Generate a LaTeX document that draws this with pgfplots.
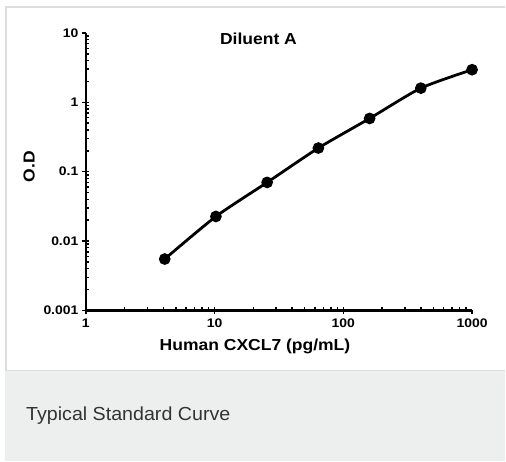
\documentclass[border=0pt]{standalone}
\usepackage{pgfplots}
\pgfplotsset{compat=1.18}
\usepackage{fontspec}
\setmainfont{Liberation Sans}
\newfontfamily\widefont{Liberation Sans}[FakeStretch=1.1]
\newfontfamily\tickfont{Liberation Sans}[FakeStretch=1.12]
\newfontfamily\capfont{Liberation Sans}[FakeStretch=1.04]
\definecolor{bandgray}{HTML}{EDEEEE}
\definecolor{bordergray}{HTML}{DDDDDD}
\definecolor{captiongray}{HTML}{333333}
\begin{document}
\begin{tikzpicture}
\fill[white] (0bp,0bp) rectangle (506bp,462bp);
\fill[bandgray] (5bp,0bp) rectangle (506bp,91bp);
\draw[bordergray, line width=2bp] (6bp,91bp) -- (6bp,455bp) -- (506bp,455bp);
\draw[bordergray, line width=1.5bp] (5bp,91bp) -- (506bp,91bp);
\node[anchor=base west, font=\capfont\fontsize{19}{22}\selectfont, text=captiongray, inner sep=0pt] at (26bp,40.5bp) {Typical Standard Curve};
\begin{axis}[
  at={(86bp,151bp)}, anchor=south west,
  scale only axis, width=387bp, height=278bp,
  xmode=log, ymode=log,
  xmin=1, xmax=1000, ymin=0.001, ymax=10,
  axis x line*=bottom, axis y line*=left,
  axis line style={line width=2.6bp, -},
  xtick={1,10,100,1000}, xticklabels={1,10,100,1000},
  ytick={0.001,0.01,0.1,1,10}, yticklabels={0.001,0.01,0.1,1,10},
  tick align=outside,
  major tick length=4bp, minor tick length=-3bp,
  major tick style={line width=1.5bp, black},
  minor tick style={line width=1.5bp, black},
  /pgf/number format/assume math mode=true,
  ticklabel style={font=\tickfont\bfseries\fontsize{12.5}{14}\selectfont},
  xticklabel style={yshift=-1bp},
  xlabel={Human CXCL7 (pg/mL)},
  ylabel={O.D},
  label style={font=\widefont\bfseries\fontsize{16}{19}\selectfont},
  xlabel style={yshift=-4bp, xshift=-24bp},
  ylabel style={yshift=2bp, xshift=5bp},
  clip=false,
]
\addplot[black, line width=2.8bp, smooth, tension=0.4, mark=*, mark size=4.4bp, mark options={solid, fill=black}]
coordinates {
(4.1,0.0055) (10.24,0.0226) (25.6,0.070) (64,0.219) (160,0.585) (400,1.60) (1000,2.95)
};
\end{axis}
\node[font=\widefont\bfseries\fontsize{16}{19}\selectfont, anchor=base] at (259bp,417bp) {Diluent A};
\end{tikzpicture}
\end{document}
